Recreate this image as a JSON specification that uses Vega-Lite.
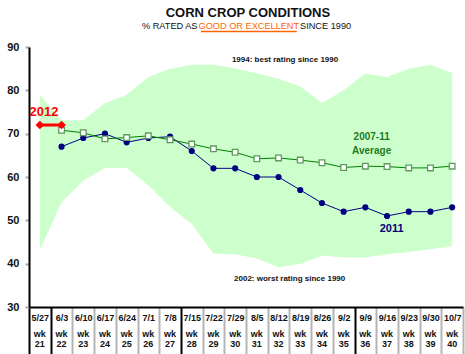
{
  "$schema": "https://vega.github.io/schema/vega-lite/v6.json",
  "width": 434,
  "height": 260,
  "autosize": {"type": "none"},
  "padding": {"left": 29, "top": 47, "right": 2, "bottom": 47},
  "background": "white",
  "config": {"view": {"stroke": null}, "font": "Liberation Sans"},
  "datasets": {
    "weeks": [
      {"date": "5/27", "wk": "21", "hi": 79, "lo": 43.2, "y2011": null, "avg": null, "y2012": 72},
      {"date": "6/3", "wk": "22", "hi": 73.1, "lo": 54.2, "y2011": 67, "avg": 70.8, "y2012": 72},
      {"date": "6/10", "wk": "23", "hi": 73.1, "lo": 59.2, "y2011": 69, "avg": 70.2, "y2012": null},
      {"date": "6/17", "wk": "24", "hi": 77, "lo": 62.1, "y2011": 70, "avg": 68.8, "y2012": null},
      {"date": "6/24", "wk": "25", "hi": 79, "lo": 62.1, "y2011": 68, "avg": 69.1, "y2012": null},
      {"date": "7/1", "wk": "26", "hi": 83.1, "lo": 58.1, "y2011": 69, "avg": 69.5, "y2012": null},
      {"date": "7/8", "wk": "27", "hi": 85, "lo": 53.1, "y2011": 69.3, "avg": 68.6, "y2012": null},
      {"date": "7/15", "wk": "28", "hi": 85.9, "lo": 49.2, "y2011": 66, "avg": 67.6, "y2012": null},
      {"date": "7/22", "wk": "29", "hi": 85.9, "lo": 42.3, "y2011": 62, "avg": 66.5, "y2012": null},
      {"date": "7/29", "wk": "30", "hi": 85.1, "lo": 42.2, "y2011": 62, "avg": 65.7, "y2012": null},
      {"date": "8/5", "wk": "31", "hi": 83.9, "lo": 41.2, "y2011": 60, "avg": 64.2, "y2012": null},
      {"date": "8/12", "wk": "32", "hi": 82.7, "lo": 39.2, "y2011": 60, "avg": 64.4, "y2012": null},
      {"date": "8/19", "wk": "33", "hi": 80.9, "lo": 40, "y2011": 57, "avg": 63.9, "y2012": null},
      {"date": "8/26", "wk": "34", "hi": 77.1, "lo": 41.9, "y2011": 54, "avg": 63.3, "y2012": null},
      {"date": "9/2", "wk": "35", "hi": 80, "lo": 41.4, "y2011": 52, "avg": 62.2, "y2012": null},
      {"date": "9/9", "wk": "36", "hi": 83.9, "lo": 41.4, "y2011": 53, "avg": 62.5, "y2012": null},
      {"date": "9/16", "wk": "37", "hi": 83.1, "lo": 42.2, "y2011": 51, "avg": 62.4, "y2012": null},
      {"date": "9/23", "wk": "38", "hi": 85, "lo": 42.7, "y2011": 52, "avg": 62.1, "y2012": null},
      {"date": "9/30", "wk": "39", "hi": 85.9, "lo": 43.3, "y2011": 52, "avg": 62.1, "y2012": null},
      {"date": "10/7", "wk": "40", "hi": 84, "lo": 44, "y2011": 53, "avg": 62.5, "y2012": null}
    ]
  },
  "layer": [
    {
      "data": {"name": "weeks"},
      "encoding": {
        "x": {
          "field": "date", "type": "ordinal", "sort": null,
          "scale": {"type": "band", "paddingInner": 0, "paddingOuter": 0,
            "domain": ["5/27","6/3","6/10","6/17","6/24","7/1","7/8","7/15","7/22","7/29","8/5","8/12","8/19","8/26","9/2","9/9","9/16","9/23","9/30","10/7"]},
          "axis": {
            "title": null, "tickBand": "extent", "tickSize": 47, "tickWidth": 2,
            "tickColor": {"condition": {"test": "!(indexof(datum.value + '', '/') > 0) || datum.value === '5/27' || datum.value === '7/8' || datum.value === '9/2'", "value": "#000000"}, "value": "#b4b4b4"},
            "domainColor": "#000000", "domainWidth": 2, "labelAngle": 0, "labelPadding": -36.3,
            "labelBaseline": "middle",
            "labelExpr": "indexof(datum.value + '', '/') > 0 ? datum.value : ''",
            "labelFont": "Liberation Sans", "labelFontSize": 9, "labelFontWeight": "bold", "labelColor": "#111111",
            "labelOverlap": false, "labelBound": false, "grid": false
          }
        }
      },
      "layer": [
        {
          "mark": {"type": "area", "color": "#ccffcc", "opacity": 1},
          "encoding": {
            "y": {"field": "hi", "type": "quantitative",
              "scale": {"domain": [30, 90], "nice": false, "zero": false},
              "axis": {"title": null, "values": [30, 40, 50, 60, 70, 80, 90], "tickSize": 4, "tickWidth": 2, "tickColor": "#aaaaaa",
                "domainColor": "#000000", "domainWidth": 2, "labelFont": "Liberation Sans", "labelFontSize": 11, "labelFontWeight": "bold",
                "labelColor": "#111111", "labelPadding": 6, "grid": false}},
            "y2": {"field": "lo"}
          }
        },
        {
          "mark": {"type": "line", "color": "#000080", "strokeWidth": 1},
          "encoding": {"y": {"field": "y2011", "type": "quantitative"}}
        },
        {
          "mark": {"type": "circle", "color": "#000080", "size": 38, "opacity": 1},
          "encoding": {"y": {"field": "y2011", "type": "quantitative"}}
        },
        {
          "mark": {"type": "line", "color": "#008000", "strokeWidth": 1},
          "encoding": {"y": {"field": "avg", "type": "quantitative"}}
        },
        {
          "mark": {"type": "square", "filled": true, "fill": "#ffffff", "stroke": "#5f9a5f", "strokeWidth": 1.3, "size": 32, "opacity": 1},
          "encoding": {"y": {"field": "avg", "type": "quantitative"}}
        },
        {
          "mark": {"type": "line", "color": "#ff0000", "strokeWidth": 3},
          "encoding": {"y": {"field": "y2012", "type": "quantitative"}}
        },
        {
          "mark": {"type": "point", "shape": "diamond", "filled": true, "color": "#ff0000", "size": 75, "opacity": 1},
          "encoding": {"y": {"field": "y2012", "type": "quantitative"}}
        },
        {
          "mark": {"type": "text", "align": "center", "baseline": "middle", "font": "Liberation Sans", "fontSize": 9, "fontWeight": "bold", "color": "#111111"},
          "encoding": {"text": {"value": "wk"}, "y": {"datum": 23.7, "type": "quantitative"}}
        },
        {
          "mark": {"type": "text", "align": "center", "baseline": "middle", "font": "Liberation Sans", "fontSize": 9, "fontWeight": "bold", "color": "#111111"},
          "encoding": {"text": {"field": "wk"}, "y": {"datum": 21.4, "type": "quantitative"}}
        }
      ]
    },
    {
      "data": {"values": [{}]},
      "layer": [
        {
          "mark": {"type": "text", "align": "center", "baseline": "middle", "font": "Liberation Sans", "fontSize": 13, "fontWeight": "bold", "color": "#111111"},
          "encoding": {"text": {"value": "CORN CROP CONDITIONS"},
            "x": {"datum": 10.09, "type": "quantitative", "scale": {"domain": [0, 20], "nice": false, "zero": false}, "axis": null},
            "y": {"datum": 97.85, "type": "quantitative", "scale": {"domain": [30, 90], "nice": false, "zero": false}, "axis": null}}
        },
        {
          "mark": {"type": "text", "align": "right", "baseline": "middle", "font": "Liberation Sans", "fontSize": 9.2, "color": "#111111"},
          "encoding": {"text": {"value": "% RATED AS"},
            "x": {"datum": 7.765, "type": "quantitative"},
            "y": {"datum": 94.8, "type": "quantitative"}}
        },
        {
          "mark": {"type": "text", "align": "center", "baseline": "middle", "font": "Liberation Sans", "fontSize": 9.2, "color": "#ff6600"},
          "encoding": {"text": {"value": "GOOD OR EXCELLENT"},
            "x": {"datum": 10.13, "type": "quantitative"},
            "y": {"datum": 94.8, "type": "quantitative"}}
        },
        {
          "mark": {"type": "text", "align": "left", "baseline": "middle", "font": "Liberation Sans", "fontSize": 9.2, "color": "#111111"},
          "encoding": {"text": {"value": "SINCE 1990"},
            "x": {"datum": 12.49, "type": "quantitative"},
            "y": {"datum": 94.8, "type": "quantitative"}}
        },
        {
          "mark": {"type": "rule", "color": "#ff6600", "strokeWidth": 1.5},
          "encoding": {
            "x": {"datum": 7.92, "type": "quantitative"},
            "x2": {"datum": 12.34},
            "y": {"datum": 93.6, "type": "quantitative"}}
        },
        {
          "mark": {"type": "text", "align": "center", "baseline": "middle", "font": "Liberation Sans", "fontSize": 13, "fontWeight": "bold", "color": "#ff0000"},
          "encoding": {"text": {"value": "2012"},
            "x": {"datum": 0.69, "type": "quantitative"},
            "y": {"datum": 75, "type": "quantitative"}}
        },
        {
          "mark": {"type": "text", "align": "left", "baseline": "middle", "font": "Liberation Sans", "fontSize": 8, "fontWeight": "bold", "color": "#111111"},
          "encoding": {"text": {"value": "1994: best rating since 1990"},
            "x": {"datum": 9.35, "type": "quantitative"},
            "y": {"datum": 86.9, "type": "quantitative"}}
        },
        {
          "mark": {"type": "text", "align": "left", "baseline": "middle", "font": "Liberation Sans", "fontSize": 8, "fontWeight": "bold", "color": "#111111"},
          "encoding": {"text": {"value": "2002: worst rating since 1990"},
            "x": {"datum": 9.45, "type": "quantitative"},
            "y": {"datum": 36.55, "type": "quantitative"}}
        },
        {
          "mark": {"type": "text", "align": "center", "baseline": "middle", "font": "Liberation Sans", "fontSize": 10, "fontWeight": "bold", "color": "#1e7b1e"},
          "encoding": {"text": {"value": "2007-11"},
            "x": {"datum": 15.79, "type": "quantitative"},
            "y": {"datum": 69.2, "type": "quantitative"}}
        },
        {
          "mark": {"type": "text", "align": "center", "baseline": "middle", "font": "Liberation Sans", "fontSize": 10, "fontWeight": "bold", "color": "#1e7b1e"},
          "encoding": {"text": {"value": "Average"},
            "x": {"datum": 15.79, "type": "quantitative"},
            "y": {"datum": 66.0, "type": "quantitative"}}
        },
        {
          "mark": {"type": "text", "align": "center", "baseline": "middle", "font": "Liberation Sans", "fontSize": 11, "fontWeight": "bold", "color": "#000080"},
          "encoding": {"text": {"value": "2011"},
            "x": {"datum": 16.71, "type": "quantitative"},
            "y": {"datum": 48.1, "type": "quantitative"}}
        }
      ]
    }
  ],
  "resolve": {"scale": {"x": "independent", "y": "independent"}, "axis": {"x": "independent", "y": "independent"}}
}
